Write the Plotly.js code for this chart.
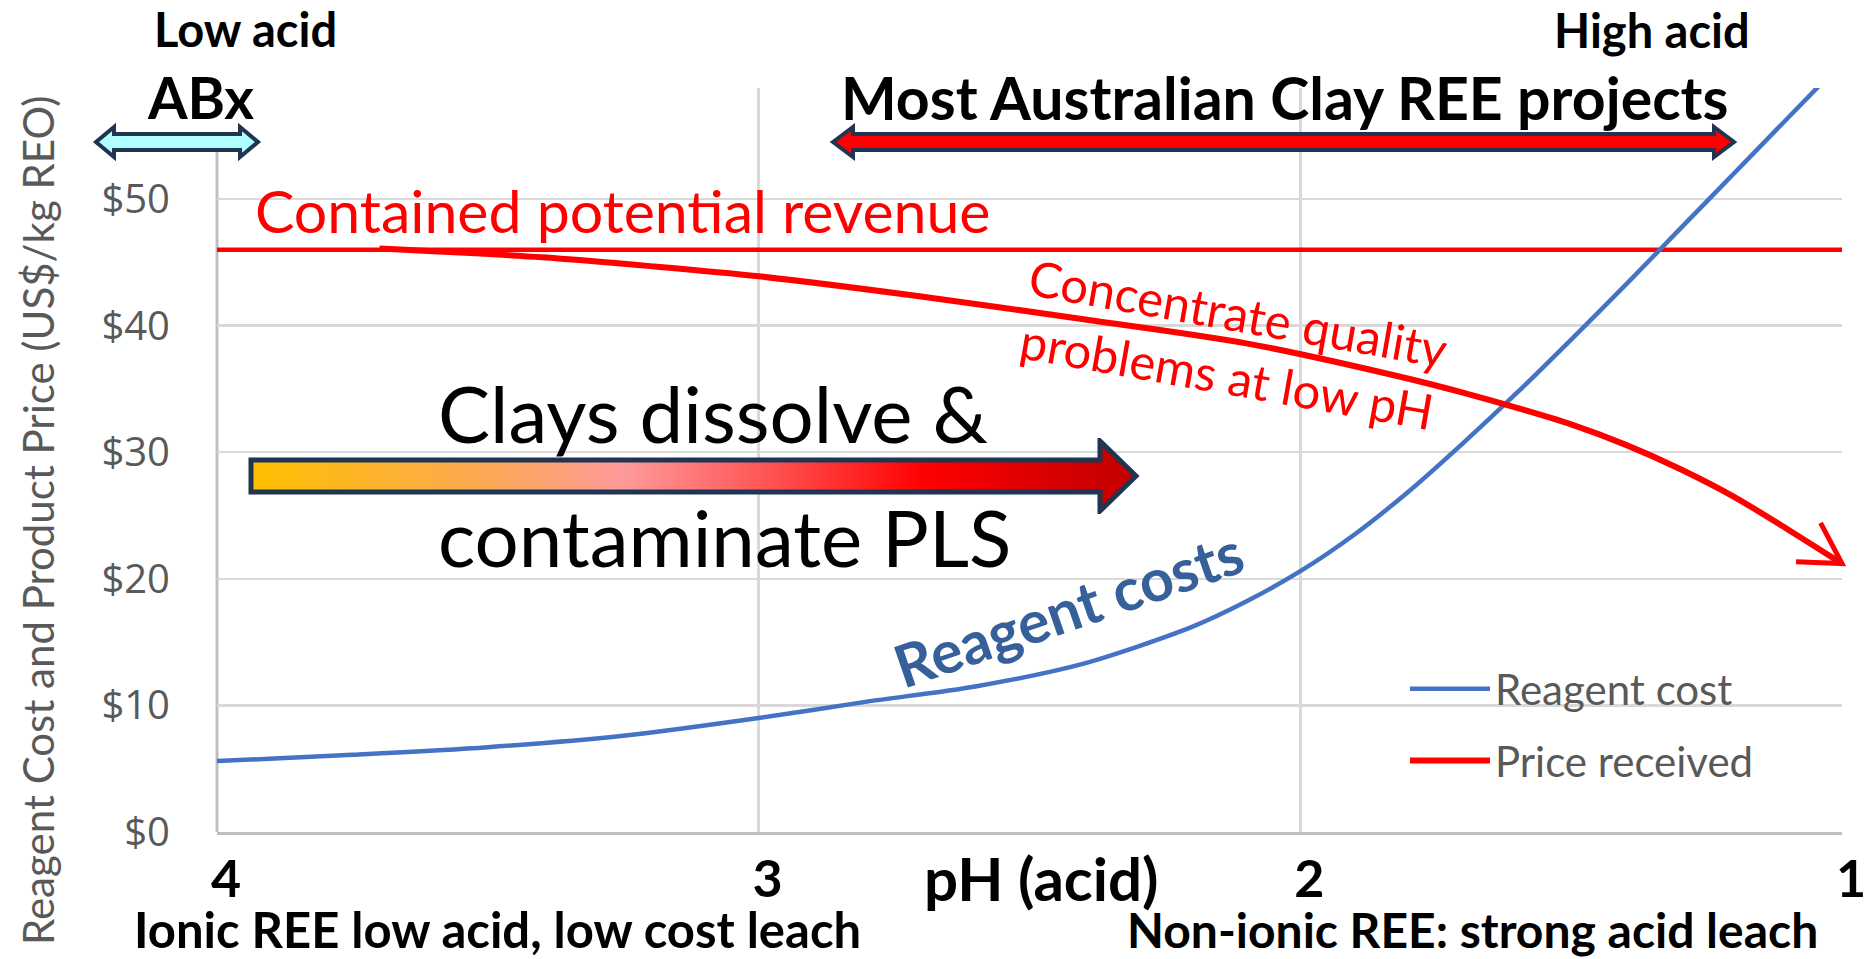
<!DOCTYPE html>
<html>
<head>
<meta charset="utf-8">
<script src="https://cdn.plot.ly/plotly-3.0.1.min.js"></script>
<style>html,body{margin:0;padding:0;background:#fff;}#chart{width:1873px;height:959px;}</style>
</head>
<body>
<div id="chart"></div>
<script>
// ---------- data ----------
const phTicks = [4, 3, 2, 1];
const phTickText = ['4', '3', '2', '1'];
const costTicks = [0, 10, 20, 30, 40, 50];
const costTickText = ['$0', '$10', '$20', '$30', '$40', '$50'];

const phReagent   = [4.0, 3.75, 3.5, 3.25, 3.0, 2.8, 2.6, 2.4, 2.2, 2.1, 2.0, 1.9, 1.8, 1.7, 1.6, 1.5, 1.4, 1.3, 1.2, 1.1, 1.0];
const reagentCost = [5.6, 6.1, 6.7, 7.6, 9.0, 10.3, 11.5, 13.3, 16.2, 18.2, 20.6, 23.5, 26.9, 30.7, 34.7, 38.9, 43.2, 47.6, 52.0, 56.4, 60.8];

const phPrice       = [3.7, 3.4, 3.2, 3.0, 2.7, 2.4, 2.1, 1.8, 1.7, 1.6, 1.5, 1.4, 1.3, 1.2, 1.1, 1.0];
const priceReceived = [46.1, 45.4, 44.7, 43.9, 42.3, 40.5, 38.6, 35.8, 34.7, 33.5, 32.2, 30.6, 28.7, 26.5, 23.9, 21.2];

const phRevenue   = [4.0, 1.0];
const revenueLine = [46.0, 46.0];

// ---------- geometry helpers (pixel -> paper) ----------
const FIG_W = 1873, FIG_H = 959;
const L = 217, R = 1842, T = 88, B = 832;
const PW = R - L, PH = B - T;
const XR = [4, 1];
const YMAX = 58.77;
const px = x => (x - L) / PW;
const py = y => (B - y) / PH;
const xPix = v => L + (XR[0] - v) / (XR[0] - XR[1]) * PW;
const yPix = v => B - v / YMAX * PH;

function dblArrow(x1, x2, cy, head, H, b) {
  const pts = [[x1, cy], [x1 + head, cy - H], [x1 + head, cy - b], [x2 - head, cy - b], [x2 - head, cy - H],
               [x2, cy], [x2 - head, cy + H], [x2 - head, cy + b], [x1 + head, cy + b], [x1 + head, cy + H]];
  return 'M' + pts.map(p => px(p[0]).toFixed(5) + ',' + py(p[1]).toFixed(5)).join(' L') + ' Z';
}

// open chevron arrowhead at the end of the price curve, oriented by its last two data points
function chevron() {
  const n = phPrice.length;
  const x1 = xPix(phPrice[n - 2]), y1 = yPix(priceReceived[n - 2]);
  const x2 = xPix(phPrice[n - 1]), y2 = yPix(priceReceived[n - 1]);
  const len = Math.hypot(x2 - x1, y2 - y1);
  const ux = (x1 - x2) / len, uy = (y1 - y2) / len;
  const a = 30 * Math.PI / 180, s = 46;
  const w1 = [x2 + s * (ux * Math.cos(a) - uy * Math.sin(a)), y2 + s * (ux * Math.sin(a) + uy * Math.cos(a))];
  const w2 = [x2 + s * (ux * Math.cos(-a) - uy * Math.sin(-a)), y2 + s * (ux * Math.sin(-a) + uy * Math.cos(-a))];
  const f = p => px(p[0]).toFixed(5) + ',' + py(p[1]).toFixed(5);
  return 'M' + f(w1) + ' L' + f([x2, y2]) + ' L' + f(w2);
}

const gradSvg =
  "<svg xmlns='http://www.w3.org/2000/svg' width='892' height='76' viewBox='0 0 892 76' preserveAspectRatio='none'>" +
  "<defs><linearGradient id='g' x1='0' y1='0' x2='1' y2='0'>" +
  "<stop offset='0' stop-color='#FFC000'/><stop offset='0.28' stop-color='#FBA75A'/>" +
  "<stop offset='0.42' stop-color='#FF9B9B'/><stop offset='0.6' stop-color='#FF4D4D'/>" +
  "<stop offset='0.76' stop-color='#FF0000'/><stop offset='1' stop-color='#C00000'/></linearGradient></defs>" +
  "<path d='M3,22 H852 V3 L888,38 L852,73 V54 H3 Z' fill='url(#g)' stroke='#1F3552' stroke-width='5'/></svg>";

const traces = [
  { x: phRevenue, y: revenueLine, mode: 'lines', line: { color: '#FF0000', width: 4.5 }, showlegend: false, hoverinfo: 'skip' },
  { x: phReagent, y: reagentCost, name: 'Reagent cost', mode: 'lines', line: { color: '#4472C4', width: 4.5, shape: 'spline', smoothing: 0.8 }, legendgroup: 'a' },
  { x: phPrice, y: priceReceived, name: 'Price received', mode: 'lines', line: { color: '#FF0000', width: 6, shape: 'spline', smoothing: 0.8 }, legendgroup: 'b' }
];

const whiteBox = (x0, x1, y0, y1) => ({ type: 'rect', xref: 'paper', yref: 'paper', layer: 'between',
  x0: px(x0), x1: px(x1), y0: py(y1), y1: py(y0), fillcolor: '#FFFFFF', line: { width: 0 } });

const shapes = [
  whiteBox(130, 285, 40, 150),
  whiteBox(730, 800, 40, 136),
  whiteBox(433, 985, 372, 459),
  whiteBox(433, 1010, 494, 590),
  { type: 'line', xref: 'paper', yref: 'paper', layer: 'between', x0: 0, x1: 0, y0: 0, y1: py(152), line: { color: '#BFBFBF', width: 3 } },
  { type: 'path', xref: 'paper', yref: 'paper', layer: 'above', path: dblArrow(96, 258, 142, 18, 15, 8), fillcolor: '#B0FFFF', line: { color: '#1F3552', width: 4 } },
  { type: 'path', xref: 'paper', yref: 'paper', layer: 'above', path: dblArrow(833, 1734, 142, 20, 15, 8), fillcolor: '#FF0000', line: { color: '#1F3552', width: 4 } },
  { type: 'path', xref: 'paper', yref: 'paper', layer: 'above', path: chevron(), line: { color: '#FF0000', width: 5 } }
];

const ann = (text, x, y, opts) => Object.assign({ text: text, xref: 'paper', yref: 'paper', x: px(x), y: py(y),
  xanchor: 'center', yanchor: 'middle', showarrow: false }, opts);
const bold = (size, color) => ({ family: 'Lato', size: size, color: color || '#000000', weight: 'bold' });
const reg = (size, color) => ({ family: 'Lato', size: size, color: color || '#000000' });

const annotations = [
  ann('Low acid', 245, 29, { font: bold(47) }),
  ann('High acid', 1652, 30, { font: bold(47) }),
  ann('ABx', 200, 97, { font: bold(57) }),
  ann('Most Australian Clay REE projects', 1284, 97, { font: bold(59) }),
  ann('Contained potential revenue', 253, 211, { xanchor: 'left', font: reg(59, '#FF0000') }),
  ann('Clays dissolve &amp;', 436, 413, { xanchor: 'left', font: reg(78) }),
  ann('contaminate PLS', 436, 537, { xanchor: 'left', font: reg(78) }),
  ann('Concentrate quality<br>problems at low pH', 1232, 344, { textangle: 10, font: reg(49, '#FF0000') }),
  ann('Reagent costs', 1068, 608, { textangle: -19, font: bold(59, '#36609A') }),
  ann('pH (acid)', 1041, 878, { font: bold(60) }),
  ann('Ionic REE low acid, low cost leach', 497, 929, { font: bold(49) }),
  ann('Non-ionic REE: strong acid leach', 1472, 929, { font: bold(48) }),
  ann('Reagent Cost and Product Price (US$/kg REO)', 38, 521, { textangle: -90, font: reg(42, '#595959') })
];

const layout = {
  width: FIG_W, height: FIG_H,
  margin: { l: L, r: FIG_W - R, t: T, b: FIG_H - B, pad: 0 },
  paper_bgcolor: '#FFFFFF', plot_bgcolor: '#FFFFFF',
  showlegend: true,
  legend: { x: px(1405), y: py(655), xanchor: 'left', yanchor: 'top', bgcolor: 'rgba(0,0,0,0)',
            font: { family: 'Lato', size: 42, color: '#595959' }, traceorder: 'grouped', tracegroupgap: 14, itemwidth: 80 },
  xaxis: { range: XR, tickmode: 'array', tickvals: phTicks, ticktext: phTickText, showgrid: true, gridcolor: '#D9D9D9', gridwidth: 2.5,
           showline: true, linecolor: '#BFBFBF', linewidth: 3, zeroline: false, ticks: '',
           tickfont: { family: 'Lato', size: 52, color: '#000000', weight: 'bold' }, ticklabelstandoff: 0, ticklabelshift: -9 },
  yaxis: { range: [0, YMAX], tickmode: 'array', tickvals: costTicks, ticktext: costTickText, showgrid: true, gridcolor: '#D9D9D9', gridwidth: 2.5,
           showline: false, zeroline: false, ticks: '',
           tickfont: { family: 'Open Sans', size: 40, color: '#595959' }, ticklabelstandoff: 46 },
  shapes: shapes,
  annotations: annotations,
  images: [{ source: 'data:image/svg+xml;charset=utf-8,' + encodeURIComponent(gradSvg), xref: 'paper', yref: 'paper',
             x: px(248), y: py(438), sizex: 892 / PW, sizey: 76 / PH, xanchor: 'left', yanchor: 'top', sizing: 'stretch', layer: 'above' }]
};

Plotly.newPlot('chart', traces, layout, { staticPlot: true, displayModeBar: false });
</script>
</body>
</html>
